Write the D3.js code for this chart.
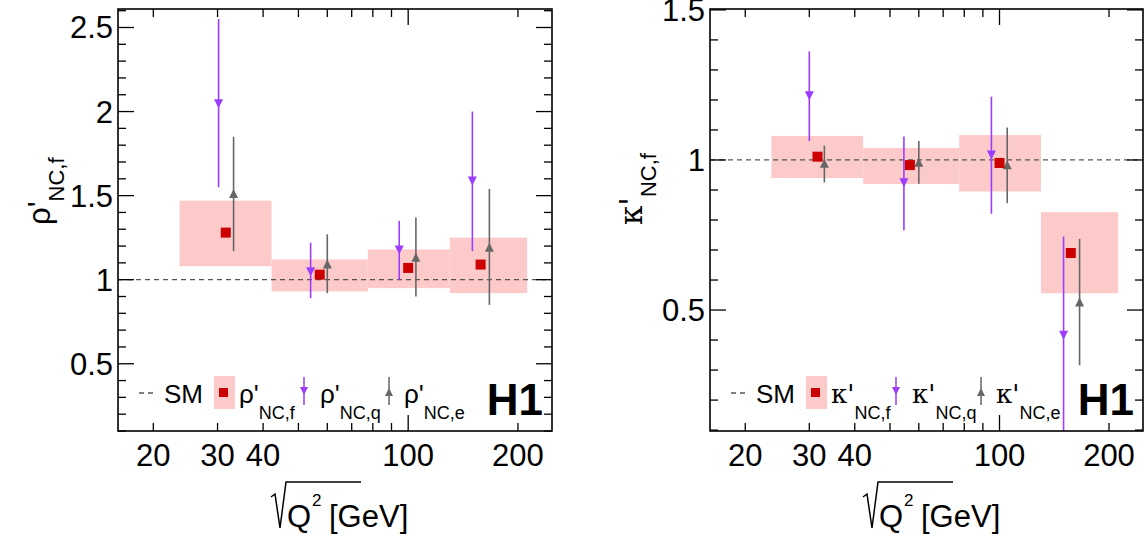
<!DOCTYPE html>
<html><head><meta charset="utf-8">
<script src="https://cdn.jsdelivr.net/npm/d3@7"></script>
<style>body{margin:0;background:#fff}svg{display:block;font-family:"Liberation Sans",Arial,sans-serif}</style>
</head><body><svg id="c" width="1146" height="539"></svg>
<script>
// Bin edges in sqrt(Q2) [GeV]
const binEdges = [23.6, 42.2, 77.5, 130, 212];

// rho' panel
const rhoF  = { x: [31.6, 57.2, 100, 158], y: [1.28, 1.03, 1.07, 1.09], lo: [1.08, 0.93, 0.95, 0.92], hi: [1.47, 1.12, 1.18, 1.25] };
const rhoQ  = { x: [30.2, 54, 94.5, 150], y: [2.05, 1.05, 1.18, 1.59], lo: [1.55, 0.89, 1.0, 1.17], hi: [2.55, 1.22, 1.35, 2.0] };
const rhoE  = { x: [33.2, 60, 105, 167], y: [1.51, 1.09, 1.13, 1.19], lo: [1.17, 0.92, 0.9, 0.85], hi: [1.85, 1.27, 1.37, 1.54] };

// kappa' panel
const kapF  = { x: [31.6, 56.7, 100, 157], y: [1.011, 0.983, 0.99, 0.69], lo: [0.94, 0.92, 0.895, 0.556], hi: [1.08, 1.04, 1.083, 0.826] };
const kapQ  = { x: [30, 54.6, 95, 150], y: [1.216, 0.926, 1.018, 0.418], lo: [1.063, 0.766, 0.821, 0.0], hi: [1.362, 1.078, 1.211, 0.745] };
const kapE  = { x: [33, 60, 105, 166], y: [0.987, 0.991, 0.982, 0.525], lo: [0.925, 0.921, 0.856, 0.316], hi: [1.048, 1.063, 1.108, 0.737] };

const xTickLabels = [20, 30, 40, 100, 200];

const C = { pink: '#fdcaca', red: '#cc0000', purple: '#9b3cff', gray: '#666666' };
const svg = d3.select('#c');

function panel(o) {
    const x = d3.scaleLog().domain([16, 248]).range([o.x0, o.x1]);
    const y = d3.scaleLinear().domain(o.ydom).range([431, 9]);
    const g = svg.append('g');
    const clipId = 'clip' + o.id;
    svg.append('defs').append('clipPath').attr('id', clipId)
        .append('rect').attr('x', o.x0).attr('y', 9).attr('width', o.x1 - o.x0).attr('height', 422);
    const inner = g.append('g').attr('clip-path', `url(#${clipId})`);
    const symFont = o.sym === 'κ' ? '"DejaVu Serif",serif' : null;

    // bands
    o.f.y.forEach((v, i) => {
        inner.append('rect').attr('x', x(binEdges[i])).attr('width', x(binEdges[i + 1]) - x(binEdges[i]))
            .attr('y', y(o.f.hi[i])).attr('height', y(o.f.lo[i]) - y(o.f.hi[i])).attr('fill', C.pink);
    });
    // SM line
    inner.append('line').attr('x1', o.x0).attr('x2', o.x1).attr('y1', y(1)).attr('y2', y(1))
        .attr('stroke', '#555').attr('stroke-width', 1.3).attr('stroke-dasharray', '5,4');

    const tri = (cx, cy, down, col) => inner.append('path')
        .attr('d', down ? `M${cx-4.5},${cy-4}L${cx+4.5},${cy-4}L${cx},${cy+5}Z` : `M${cx-4.5},${cy+4}L${cx+4.5},${cy+4}L${cx},${cy-5}Z`)
        .attr('fill', col);
    [[o.q, C.purple, true], [o.e, C.gray, false]].forEach(([s, col, down]) => {
        s.x.forEach((xv, i) => {
            inner.append('line').attr('x1', x(xv)).attr('x2', x(xv)).attr('y1', y(s.lo[i])).attr('y2', y(s.hi[i]))
                .attr('stroke', col).attr('stroke-width', 1.6);
            tri(x(xv), y(s.y[i]), down, col);
        });
    });
    o.f.x.forEach((xv, i) => {
        inner.append('rect').attr('x', x(xv) - 5).attr('y', y(o.f.y[i]) - 5).attr('width', 10).attr('height', 10).attr('fill', C.red);
    });

    // frame
    g.append('rect').attr('x', o.x0).attr('y', 9).attr('width', o.x1 - o.x0).attr('height', 422)
        .attr('fill', 'none').attr('stroke', '#000').attr('stroke-width', 1.6);

    // y ticks both sides, inward
    const yt = d3.range(Math.ceil(o.ydom[0] * 10), Math.floor(o.ydom[1] * 10 + 0.01) + 1).map(v => v / 10);
    yt.forEach(v => {
        const major = Math.abs(v * 2 - Math.round(v * 2)) < 1e-6;
        const L = major ? 16 : 8;
        [[o.x0, 1], [o.x1, -1]].forEach(([xx, d]) => g.append('line').attr('x1', xx).attr('x2', xx + d * L)
            .attr('y1', y(v)).attr('y2', y(v)).attr('stroke', '#000').attr('stroke-width', 1.3));
        if (major) g.append('text').attr('x', o.x0 - 5).attr('y', y(v) + 11).attr('text-anchor', 'end')
            .attr('font-size', 31).text(d3.format('')(v));
    });
    // x ticks both sides, inward
    const xt = [20, 30, 40, 50, 60, 70, 80, 90, 100, 200];
    xt.forEach(v => {
        const L = v === 100 ? 16 : 8;
        [[431, -1], [9, 1]].forEach(([yy, d]) => g.append('line').attr('x1', x(v)).attr('x2', x(v))
            .attr('y1', yy).attr('y2', yy + d * L).attr('stroke', '#000').attr('stroke-width', 1.3));
    });
    xTickLabels.forEach(v => g.append('text').attr('x', x(v)).attr('y', 466).attr('text-anchor', 'middle')
        .attr('font-size', 31).text(v));

    // x title
    const tx = o.x0 + 153;
    g.append('path').attr('d', `M${tx},497L${tx+4},494L${tx+9},528L${tx+15},482L${tx+90},482`)
        .attr('fill', 'none').attr('stroke', '#000').attr('stroke-width', 1.5);
    g.append('text').attr('x', tx + 16).attr('y', 527).attr('font-size', 31).text('Q');
    g.append('text').attr('x', tx + 41).attr('y', 506).attr('font-size', 17).text('2');
    g.append('text').attr('x', tx + 58).attr('y', 527).attr('font-size', 31).text('[GeV]');

    // y title
    const yl = g.append('text').attr('transform', `translate(${o.x0 - 68},225) rotate(-90)`).attr('font-size', 31);
    yl.append('tspan').attr('font-family', symFont).text(o.sym + "'");
    yl.append('tspan').attr('dy', 14).attr('font-size', 22).text('NC,f');

    // legend
    const ly = 393;
    g.append('line').attr('x1', o.x0 + 21).attr('x2', o.x0 + 37).attr('y1', ly).attr('y2', ly)
        .attr('stroke', '#555').attr('stroke-width', 1.3).attr('stroke-dasharray', '5,4');
    g.append('text').attr('x', o.x0 + 46).attr('y', ly + 10).attr('font-size', 26).text('SM');
    g.append('rect').attr('x', o.x0 + 96).attr('y', ly - 17).attr('width', 21).attr('height', 33).attr('fill', C.pink);
    g.append('rect').attr('x', o.x0 + 101).attr('y', ly - 5).attr('width', 9).attr('height', 9).attr('fill', C.red);
    g.append('line').attr('x1', o.x0 + 186).attr('x2', o.x0 + 186).attr('y1', ly - 16).attr('y2', ly + 12).attr('stroke', C.purple).attr('stroke-width', 1.5);
    g.append('path').attr('d', `M${o.x0+182},${ly-6}L${o.x0+190},${ly-6}L${o.x0+186},${ly+2}Z`).attr('fill', C.purple);
    g.append('line').attr('x1', o.x0 + 271).attr('x2', o.x0 + 271).attr('y1', ly - 16).attr('y2', ly + 12).attr('stroke', C.gray).attr('stroke-width', 1.5);
    g.append('path').attr('d', `M${o.x0+267},${ly+3}L${o.x0+275},${ly+3}L${o.x0+271},${ly-5}Z`).attr('fill', C.gray);
    [['f', 121], ['q', 202], ['e', 286]].forEach(([s, dx]) => {
        const t = g.append('text').attr('x', o.x0 + dx).attr('y', ly + 10).attr('font-size', 26);
        t.append('tspan').attr('font-family', symFont).text(o.sym + "'");
        t.append('tspan').attr('dy', 16).attr('font-size', 18).text('NC,' + s);
    });
    g.append('text').attr('x', o.x1 - 9).attr('y', 415).attr('text-anchor', 'end')
        .attr('font-size', 44).attr('font-weight', 'bold').text('H1');
}

panel({ id: 'a', x0: 118, x1: 552, ydom: [0.1, 2.61], f: rhoF, q: rhoQ, e: rhoE, sym: 'ρ' });
panel({ id: 'b', x0: 710, x1: 1143, ydom: [0.097, 1.503], f: kapF, q: kapQ, e: kapE, sym: 'κ' });
</script></body></html>
